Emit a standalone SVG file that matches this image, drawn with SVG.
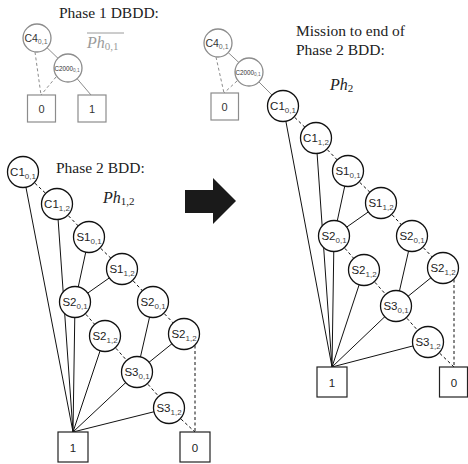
<svg xmlns="http://www.w3.org/2000/svg" width="468" height="464" viewBox="0 0 468 464">
  <style>
    .bg { fill: #ffffff; }
    .title { font-family: "Liberation Serif", "Times New Roman", serif; font-size: 15.5px; fill: #222; }
    .math { font-family: "Liberation Serif", "Times New Roman", serif; font-size: 16px; font-style: italic; fill: #222; }
    .math .sub { font-style: normal; font-size: 11px; }
    .math.grey { fill: #9a9a9a; }
    .node circle { fill: #fff; stroke: #111; stroke-width: 1.3; }
    .node text { font-family: "Liberation Sans", Arial, sans-serif; font-size: 11.5px; fill: #222; text-anchor: middle; }
    .node text .sub { font-size: 8px; fill: #444; }
    .term rect { fill: #fff; stroke: #222; stroke-width: 1.2; }
    .term text { font-family: "Liberation Sans", Arial, sans-serif; font-size: 11.5px; fill: #222; text-anchor: middle; }
    .gnode circle { fill: #fff; stroke: #8c8c8c; stroke-width: 1.3; }
    .gnode text { font-family: "Liberation Sans", Arial, sans-serif; font-size: 10.5px; fill: #333; text-anchor: middle; }
    .gnode text.small { font-size: 6.3px; }
    .gnode text .sub { font-size: 7px; fill: #666; }
    .gnode text.small .sub { font-size: 4.8px; }
    .gterm rect { fill: #fff; stroke: #8c8c8c; stroke-width: 1.2; }
    .gterm text { font-family: "Liberation Sans", Arial, sans-serif; font-size: 11px; fill: #333; text-anchor: middle; }
    .hi { stroke: #111; stroke-width: 1; fill: none; }
    .lo { stroke: #111; stroke-width: 1; fill: none; stroke-dasharray: 3 2.5; }
    .ghi { stroke: #8c8c8c; stroke-width: 1; fill: none; }
    .glo { stroke: #8c8c8c; stroke-width: 1; fill: none; stroke-dasharray: 3 2.5; }
  </style>

  <rect class="bg" x="0" y="0" width="468" height="464"/>

  <!-- captions -->
  <g id="captions">
    <text class="title" x="59" y="18">Phase 1 DBDD:</text>
    <text class="math grey" x="87" y="48">Ph<tspan class="sub" dy="2">0,1</tspan></text>
    <line x1="87" y1="33" x2="124" y2="33" stroke="#9a9a9a" stroke-width="1"/>
    <text class="title" x="296" y="36">Mission to end of</text>
    <text class="title" x="296" y="55">Phase 2 BDD:</text>
    <text class="math" x="330" y="90">Ph<tspan class="sub" dy="2">2</tspan></text>
    <text class="title" x="56" y="173">Phase 2 BDD:</text>
    <text class="math" x="103" y="203">Ph<tspan class="sub" dy="2">1,2</tspan></text>
  </g>

  <!-- block arrow between the two BDDs -->
  <g id="arrow">
    <polygon points="185,190 213,190 213,178 236,201 213,224 213,213 185,213" fill="#1a1a1a"/>
  </g>

  <!-- connectors -->
  <g id="connectors">
    <!-- phase 1 DBDD -->
    <line class="ghi" x1="37" y1="38" x2="68" y2="68"/>
    <line class="glo" x1="35" y1="52" x2="41" y2="95"/>
    <line class="glo" x1="56" y1="77" x2="41" y2="95"/>
    <line class="ghi" x1="68" y1="68" x2="91" y2="95"/>

    <!-- phase 1 part of the mission BDD -->
    <line class="ghi" x1="218" y1="43" x2="249" y2="72"/>
    <line class="glo" x1="216" y1="57" x2="224" y2="93"/>
    <line class="glo" x1="237" y1="81" x2="224" y2="93"/>
    <line class="ghi" x1="249" y1="72" x2="283" y2="106"/>

    <!-- phase 2 BDD: 0-edges -->
    <line class="lo" x1="23" y1="172" x2="57" y2="204"/>
    <line class="lo" x1="57" y1="204" x2="89" y2="237"/>
    <line class="lo" x1="89" y1="237" x2="122" y2="269"/>
    <line class="lo" x1="122" y1="269" x2="153" y2="302"/>
    <line class="lo" x1="153" y1="302" x2="184" y2="334"/>
    <line class="lo" x1="195" y1="340" x2="195" y2="432"/>
    <line class="lo" x1="75" y1="302" x2="105" y2="336"/>
    <line class="lo" x1="105" y1="336" x2="137" y2="372"/>
    <line class="lo" x1="137" y1="372" x2="169" y2="408"/>
    <line class="lo" x1="169" y1="408" x2="195" y2="432"/>
    <!-- phase 2 BDD: 1-edges -->
    <line class="hi" x1="23" y1="172" x2="73" y2="432"/>
    <line class="hi" x1="57" y1="204" x2="73" y2="432"/>
    <line class="hi" x1="89" y1="237" x2="75" y2="302"/>
    <line class="hi" x1="122" y1="269" x2="75" y2="302"/>
    <line class="hi" x1="75" y1="302" x2="73" y2="432"/>
    <line class="hi" x1="105" y1="336" x2="73" y2="432"/>
    <line class="hi" x1="153" y1="302" x2="137" y2="372"/>
    <line class="hi" x1="184" y1="334" x2="137" y2="372"/>
    <line class="hi" x1="137" y1="372" x2="73" y2="432"/>
    <line class="hi" x1="169" y1="408" x2="73" y2="432"/>

    <!-- mission BDD: 0-edges -->
    <line class="lo" x1="283" y1="106" x2="316" y2="138"/>
    <line class="lo" x1="316" y1="138" x2="348" y2="171"/>
    <line class="lo" x1="348" y1="171" x2="381" y2="203"/>
    <line class="lo" x1="381" y1="203" x2="412" y2="236"/>
    <line class="lo" x1="412" y1="236" x2="443" y2="268"/>
    <line class="lo" x1="454" y1="274" x2="454" y2="367"/>
    <line class="lo" x1="334" y1="236" x2="364" y2="270"/>
    <line class="lo" x1="364" y1="270" x2="396" y2="306"/>
    <line class="lo" x1="396" y1="306" x2="428" y2="342"/>
    <line class="lo" x1="428" y1="342" x2="454" y2="367"/>
    <!-- mission BDD: 1-edges -->
    <line class="hi" x1="283" y1="106" x2="332" y2="367"/>
    <line class="hi" x1="316" y1="138" x2="332" y2="367"/>
    <line class="hi" x1="348" y1="171" x2="334" y2="236"/>
    <line class="hi" x1="381" y1="203" x2="334" y2="236"/>
    <line class="hi" x1="334" y1="236" x2="332" y2="367"/>
    <line class="hi" x1="364" y1="270" x2="332" y2="367"/>
    <line class="hi" x1="412" y1="236" x2="396" y2="306"/>
    <line class="hi" x1="443" y1="268" x2="396" y2="306"/>
    <line class="hi" x1="396" y1="306" x2="332" y2="367"/>
    <line class="hi" x1="428" y1="342" x2="332" y2="367"/>
  </g>

  <!-- phase 1 DBDD nodes -->
  <g id="p1-C4" class="gnode"><circle cx="37" cy="38" r="14"/><text x="36" y="42">C4<tspan class="sub" dy="2">0,1</tspan></text></g>
  <g id="p1-C2000" class="gnode"><circle cx="68" cy="68" r="14"/><text class="small" x="67" y="70.5">C2000<tspan class="sub" dy="1.5">0,1</tspan></text></g>
  <g id="p1-zero" class="gterm"><rect x="27.5" y="95" width="28" height="27"/><text x="41.5" y="113">0</text></g>
  <g id="p1-one" class="gterm"><rect x="78" y="95" width="28" height="27"/><text x="92" y="113">1</text></g>

  <!-- phase 1 nodes of the mission BDD -->
  <g id="m-C4" class="gnode"><circle cx="218" cy="43" r="14"/><text x="217" y="47">C4<tspan class="sub" dy="2">0,1</tspan></text></g>
  <g id="m-C2000" class="gnode"><circle cx="249" cy="72" r="14"/><text class="small" x="248" y="74.5">C2000<tspan class="sub" dy="1.5">0,1</tspan></text></g>
  <g id="m-p1-zero" class="gterm"><rect x="211" y="93" width="27.5" height="27"/><text x="224.5" y="111">0</text></g>

  <!-- phase 2 BDD nodes -->
  <g id="p2-C1-01" class="node"><circle cx="23" cy="172" r="15.5"/><text x="23" y="176">C1<tspan class="sub" dy="2.5">0,1</tspan></text></g>
  <g id="p2-C1-12" class="node"><circle cx="57" cy="204" r="15.5"/><text x="57" y="208">C1<tspan class="sub" dy="2.5">1,2</tspan></text></g>
  <g id="p2-S1-01" class="node"><circle cx="89" cy="237" r="15.5"/><text x="89" y="241">S1<tspan class="sub" dy="2.5">0,1</tspan></text></g>
  <g id="p2-S1-12" class="node"><circle cx="122" cy="269" r="15.5"/><text x="122" y="273">S1<tspan class="sub" dy="2.5">1,2</tspan></text></g>
  <g id="p2-S2-01a" class="node"><circle cx="75" cy="302" r="15.5"/><text x="75" y="306">S2<tspan class="sub" dy="2.5">0,1</tspan></text></g>
  <g id="p2-S2-01b" class="node"><circle cx="153" cy="302" r="15.5"/><text x="153" y="306">S2<tspan class="sub" dy="2.5">0,1</tspan></text></g>
  <g id="p2-S2-12a" class="node"><circle cx="105" cy="336" r="15.5"/><text x="105" y="340">S2<tspan class="sub" dy="2.5">1,2</tspan></text></g>
  <g id="p2-S2-12b" class="node"><circle cx="184" cy="334" r="15.5"/><text x="184" y="338">S2<tspan class="sub" dy="2.5">1,2</tspan></text></g>
  <g id="p2-S3-01" class="node"><circle cx="137" cy="372" r="15.5"/><text x="137" y="376">S3<tspan class="sub" dy="2.5">0,1</tspan></text></g>
  <g id="p2-S3-12" class="node"><circle cx="169" cy="408" r="15.5"/><text x="169" y="412">S3<tspan class="sub" dy="2.5">1,2</tspan></text></g>
  <g id="p2-one" class="term"><rect x="58" y="432" width="30" height="30"/><text x="73" y="452">1</text></g>
  <g id="p2-zero" class="term"><rect x="180" y="432" width="30" height="30"/><text x="195" y="452">0</text></g>

  <!-- mission BDD nodes -->
  <g id="m-C1-01" class="node"><circle cx="283" cy="106" r="15.5"/><text x="283" y="110">C1<tspan class="sub" dy="2.5">0,1</tspan></text></g>
  <g id="m-C1-12" class="node"><circle cx="316" cy="138" r="15.5"/><text x="316" y="142">C1<tspan class="sub" dy="2.5">1,2</tspan></text></g>
  <g id="m-S1-01" class="node"><circle cx="348" cy="171" r="15.5"/><text x="348" y="175">S1<tspan class="sub" dy="2.5">0,1</tspan></text></g>
  <g id="m-S1-12" class="node"><circle cx="381" cy="203" r="15.5"/><text x="381" y="207">S1<tspan class="sub" dy="2.5">1,2</tspan></text></g>
  <g id="m-S2-01a" class="node"><circle cx="334" cy="236" r="15.5"/><text x="334" y="240">S2<tspan class="sub" dy="2.5">0,1</tspan></text></g>
  <g id="m-S2-01b" class="node"><circle cx="412" cy="236" r="15.5"/><text x="412" y="240">S2<tspan class="sub" dy="2.5">0,1</tspan></text></g>
  <g id="m-S2-12a" class="node"><circle cx="364" cy="270" r="15.5"/><text x="364" y="274">S2<tspan class="sub" dy="2.5">1,2</tspan></text></g>
  <g id="m-S2-12b" class="node"><circle cx="443" cy="268" r="15.5"/><text x="443" y="272">S2<tspan class="sub" dy="2.5">1,2</tspan></text></g>
  <g id="m-S3-01" class="node"><circle cx="396" cy="306" r="15.5"/><text x="396" y="310">S3<tspan class="sub" dy="2.5">0,1</tspan></text></g>
  <g id="m-S3-12" class="node"><circle cx="428" cy="342" r="15.5"/><text x="428" y="346">S3<tspan class="sub" dy="2.5">1,2</tspan></text></g>
  <g id="m-one" class="term"><rect x="317" y="367" width="30" height="30"/><text x="332" y="387">1</text></g>
  <g id="m-zero" class="term"><rect x="439.5" y="367" width="28" height="30"/><text x="454" y="387">0</text></g>
</svg>
